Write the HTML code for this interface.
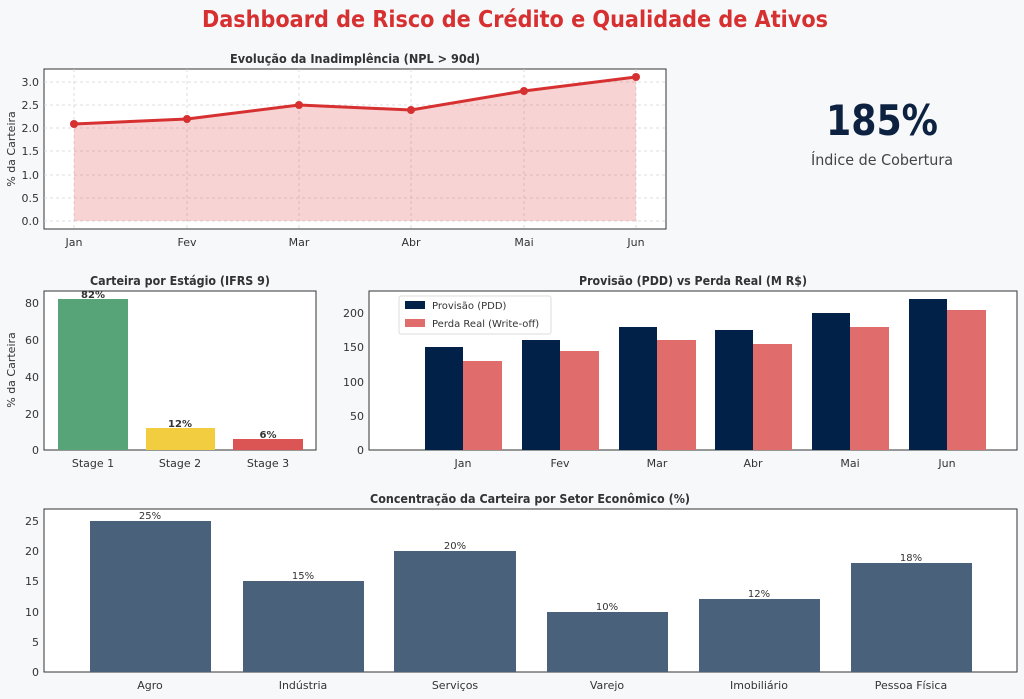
<!DOCTYPE html><html><head><meta charset="utf-8"><style>
body{margin:0;background:#f7f8fa;}
svg{display:block;font-family:"DejaVu Sans","Liberation Sans",sans-serif;}
</style></head><body>
<svg width="1024" height="699" viewBox="0 0 1024 699">
<rect width="1024" height="699" fill="#f7f8fa"/>
<text x="515" y="27" text-anchor="middle" font-size="23" font-weight="bold" fill="#d63031" textLength="626" lengthAdjust="spacingAndGlyphs">Dashboard de Risco de Crédito e Qualidade de Ativos</text>

<!-- Top line chart -->
<rect x="44" y="69" width="622" height="160" fill="#fff" stroke="#333" stroke-width="1"/>
<g stroke="#d4d4d4" stroke-dasharray="3,3" stroke-width="0.8">
<line x1="44" x2="666" y1="221" y2="221"/><line x1="44" x2="666" y1="198" y2="198"/><line x1="44" x2="666" y1="175" y2="175"/><line x1="44" x2="666" y1="151" y2="151"/><line x1="44" x2="666" y1="128" y2="128"/><line x1="44" x2="666" y1="105" y2="105"/><line x1="44" x2="666" y1="82" y2="82"/>
<line x1="74" x2="74" y1="69" y2="229"/><line x1="187" x2="187" y1="69" y2="229"/><line x1="299" x2="299" y1="69" y2="229"/><line x1="411" x2="411" y1="69" y2="229"/><line x1="524" x2="524" y1="69" y2="229"/><line x1="636" x2="636" y1="69" y2="229"/>
</g>
<polygon points="74,221 74,124 187,119 299,105 411,110 524,91 636,77 636,221" fill="#e05050" fill-opacity="0.25"/>
<polyline points="74,124 187,119 299,105 411,110 524,91 636,77" fill="none" stroke="#d63031" stroke-width="3"/>
<g fill="#d63031"><circle cx="74" cy="124" r="4"/><circle cx="187" cy="119" r="4"/><circle cx="299" cy="105" r="4"/><circle cx="411" cy="110" r="4"/><circle cx="524" cy="91" r="4"/><circle cx="636" cy="77" r="4"/></g>
<g font-size="11" fill="#333" text-anchor="end">
<text x="39" y="225">0.0</text><text x="39" y="202">0.5</text><text x="39" y="179">1.0</text><text x="39" y="155">1.5</text><text x="39" y="132">2.0</text><text x="39" y="109">2.5</text><text x="39" y="86">3.0</text></g>
<g font-size="11" fill="#333" text-anchor="middle">
<text x="74" y="246">Jan</text><text x="187" y="246">Fev</text><text x="299" y="246">Mar</text><text x="411" y="246">Abr</text><text x="524" y="246">Mai</text><text x="636" y="246">Jun</text></g>
<text transform="translate(15,149) rotate(-90)" text-anchor="middle" font-size="11" fill="#333">% da Carteira</text>
<text x="355" y="63" text-anchor="middle" font-size="12" font-weight="bold" fill="#333" textLength="250" lengthAdjust="spacingAndGlyphs">Evolução da Inadimplência (NPL &gt; 90d)</text>

<!-- KPI -->
<text x="882" y="135" text-anchor="middle" font-size="42" font-weight="bold" fill="#0d2240" textLength="112" lengthAdjust="spacingAndGlyphs">185%</text>
<text x="882" y="165" text-anchor="middle" font-size="15" fill="#444" textLength="142" lengthAdjust="spacingAndGlyphs">Índice de Cobertura</text>

<!-- Mid left -->
<rect x="44" y="291" width="272" height="159" fill="#fff" stroke="#333"/>
<rect x="58" y="299" width="70" height="151" fill="#56a478"/>
<rect x="146" y="428" width="69" height="22" fill="#f3cd40"/>
<rect x="233" y="439" width="70" height="11" fill="#dc5555"/>
<g font-size="10" font-weight="bold" fill="#333" text-anchor="middle"><text x="93" y="298">82%</text><text x="180" y="427">12%</text><text x="268" y="438">6%</text></g>
<g font-size="11" fill="#333" text-anchor="end"><text x="39" y="454">0</text><text x="39" y="418">20</text><text x="39" y="381">40</text><text x="39" y="344">60</text><text x="39" y="307">80</text></g>
<g font-size="11" fill="#333" text-anchor="middle"><text x="93" y="467">Stage 1</text><text x="180" y="467">Stage 2</text><text x="268" y="467">Stage 3</text></g>
<text transform="translate(15,370) rotate(-90)" text-anchor="middle" font-size="11" fill="#333">% da Carteira</text>
<text x="180" y="285" text-anchor="middle" font-size="12" font-weight="bold" fill="#333" textLength="180" lengthAdjust="spacingAndGlyphs">Carteira por Estágio (IFRS 9)</text>

<!-- Mid right -->
<rect x="369" y="291" width="648" height="159" fill="#fff" stroke="#333"/>
<g fill="#012148">
<rect x="425" y="347" width="38" height="103"/><rect x="522" y="340" width="38" height="110"/><rect x="619" y="327" width="38" height="123"/><rect x="715" y="330" width="38" height="120"/><rect x="812" y="313" width="38" height="137"/><rect x="909" y="299" width="38" height="151"/></g>
<g fill="#e06c6c">
<rect x="463" y="361" width="39" height="89"/><rect x="560" y="351" width="39" height="99"/><rect x="657" y="340" width="39" height="110"/><rect x="753" y="344" width="39" height="106"/><rect x="850" y="327" width="39" height="123"/><rect x="947" y="310" width="39" height="140"/></g>
<g font-size="11" fill="#333" text-anchor="end"><text x="364" y="454">0</text><text x="364" y="420">50</text><text x="364" y="386">100</text><text x="364" y="351">150</text><text x="364" y="317">200</text></g>
<g font-size="11" fill="#333" text-anchor="middle"><text x="463" y="467">Jan</text><text x="560" y="467">Fev</text><text x="657" y="467">Mar</text><text x="753" y="467">Abr</text><text x="850" y="467">Mai</text><text x="947" y="467">Jun</text></g>
<rect x="399" y="296" width="152" height="38" fill="#fff" stroke="#ddd" rx="2"/>
<rect x="405" y="301" width="20" height="8" fill="#012148"/><rect x="405" y="319" width="20" height="8" fill="#e06c6c"/>
<g font-size="10" fill="#333"><text x="432" y="309">Provisão (PDD)</text><text x="432" y="327">Perda Real (Write-off)</text></g>
<text x="693" y="285" text-anchor="middle" font-size="12" font-weight="bold" fill="#333" textLength="228" lengthAdjust="spacingAndGlyphs">Provisão (PDD) vs Perda Real (M R$)</text>

<!-- Bottom -->
<rect x="44" y="509" width="973" height="163" fill="#fff" stroke="#333"/>
<g fill="#4a617c">
<rect x="90" y="521" width="121" height="151"/><rect x="243" y="581" width="121" height="91"/><rect x="394" y="551" width="122" height="121"/><rect x="547" y="612" width="121" height="60"/><rect x="699" y="599" width="121" height="73"/><rect x="851" y="563" width="121" height="109"/></g>
<g font-size="10" fill="#333" text-anchor="middle"><text x="150" y="519">25%</text><text x="303" y="579">15%</text><text x="455" y="549">20%</text><text x="607" y="610">10%</text><text x="759" y="597">12%</text><text x="911" y="561">18%</text></g>
<g font-size="11" fill="#333" text-anchor="end"><text x="39" y="676">0</text><text x="39" y="646">5</text><text x="39" y="616">10</text><text x="39" y="585">15</text><text x="39" y="555">20</text><text x="39" y="525">25</text></g>
<g font-size="11" fill="#333" text-anchor="middle"><text x="150" y="689">Agro</text><text x="303" y="689">Indústria</text><text x="455" y="689">Serviços</text><text x="607" y="689">Varejo</text><text x="759" y="689">Imobiliário</text><text x="911" y="689">Pessoa Física</text></g>
<text x="530" y="503" text-anchor="middle" font-size="12" font-weight="bold" fill="#333" textLength="320" lengthAdjust="spacingAndGlyphs">Concentração da Carteira por Setor Econômico (%)</text>
</svg>
</body></html>
